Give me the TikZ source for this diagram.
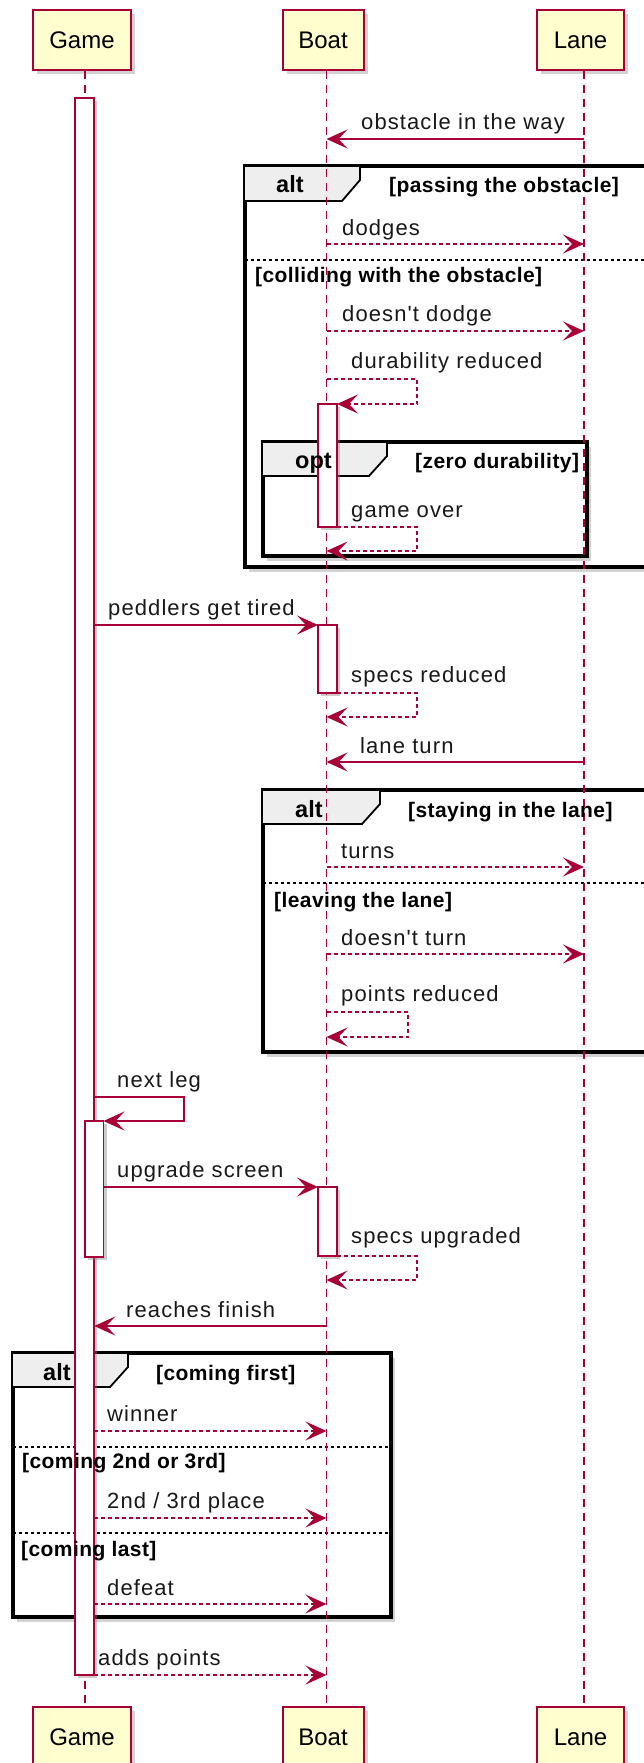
\documentclass[tikz,border=0pt]{standalone}
\usepackage{fontspec}
\setmainfont{Liberation Sans}
\newfontfamily\msgfont{Liberation Sans}[LetterSpace=5]
\newfontfamily\grdfont{Liberation Sans}[LetterSpace=2]
\usepackage{xcolor}
\usetikzlibrary{arrows.meta, shadows, positioning}
\definecolor{umlred}{HTML}{A80036}
\definecolor{umlfill}{HTML}{FEFECE}
\definecolor{tabgray}{HTML}{EEEEEE}
\tikzset{
>={Stealth[length=21pt, width=19pt, inset=9pt]}, % arrow heads of the messages
participant/.style={draw=umlred, line width=2pt, fill=umlfill, minimum height=60pt, inner sep=0pt,
  font=\fontsize{24}{28}\selectfont, drop shadow={shadow xshift=4pt, shadow yshift=-4pt, opacity=0.35}},
lifeline/.style={umlred, line width=1.3pt, dash pattern=on 8pt off 6pt},
bar/.style={draw=umlred, line width=1.6pt, fill=white, minimum width=19pt, inner sep=0pt, outer sep=0pt,
  drop shadow={shadow xshift=3pt, shadow yshift=-3pt, opacity=0.4}},
call/.style={->, umlred, line width=1.6pt}, % plain message
reply/.style={->, umlred, line width=1.6pt, dash pattern=on 4pt off 3pt}, % dashed message
lbl/.style={anchor=base west, inner sep=0pt, text=black!90, font=\msgfont\fontsize{22}{26}\selectfont},
frame/.style={draw=black, line width=3.2pt, fill=white, drop shadow={shadow xshift=4pt, shadow yshift=-5pt, opacity=0.35}},
tab/.style={draw=black, line width=1.8pt, fill=tabgray},
kind/.style={anchor=base west, inner sep=0pt, font=\bfseries\fontsize{23.5}{27}\selectfont},
guard/.style={anchor=base west, inner sep=0pt, font=\grdfont\bfseries\fontsize{21}{25}\selectfont},
divider/.style={black, line width=1.2pt, dash pattern=on 3pt off 3pt},
}

\begin{document}
\begin{tikzpicture}[x=1pt, y=-1pt]
    \clip (0,0) rectangle (644,1763);
    \fill[white] (0,0) rectangle (644,1763);

    % where the lifelines run
    \coordinate (gameL) at (85,0);
    \coordinate (boatL) at (326.5,0);
    \coordinate (laneL) at (584,0);

    % participants, top and bottom
    \node[participant, minimum width=98pt] (gameHead) at (82,40) {Game};
    \node[participant, minimum width=81pt] (boatHead) at (323,40) {Boat};
    \node[participant, minimum width=87pt] (laneHead) at (580.5,40) {Lane};
    \node[participant, minimum width=98pt] (gameFoot) at (82,1737) {Game};
    \node[participant, minimum width=81pt] (boatFoot) at (323,1737) {Boat};
    \node[participant, minimum width=87pt] (laneFoot) at (580.5,1737) {Lane};

    % groups
    \draw[frame] (245,166) rectangle (700,567);
    \draw[tab] (245,166) -- (360,166) -- (360,180) -- (342,201) -- (245,201);
    \draw[divider] (245,260) -- (700,260);
    \draw[frame] (263,442) rectangle (587,556);
    \draw[tab] (263,442) -- (387,442) -- (387,456) -- (369,476) -- (263,476);
    \draw[frame] (263,790) rectangle (700,1052);
    \draw[tab] (263,790) -- (380,790) -- (380,804) -- (362,824) -- (263,824);
    \draw[divider] (263,883) -- (700,883);
    \draw[frame] (13,1353) rectangle (391,1617);
    \draw[tab] (13,1353) -- (128,1353) -- (128,1367) -- (110,1387) -- (13,1387);
    \draw[divider] (13,1447) -- (391,1447);
    \draw[divider] (13,1533) -- (391,1533);

    % lifelines
    \draw[lifeline] (gameL |- gameHead.south) -- (gameL |- gameFoot.north);
    \draw[lifeline] (boatL |- boatHead.south) -- (boatL |- boatFoot.north);
    \draw[lifeline] (laneL |- laneHead.south) -- (laneL |- laneFoot.north);

    % activations
    \node[bar, minimum height=1577pt] (gbar) at (84.75,886.5) {};
    \node[bar, minimum height=136pt, minimum width=18.5pt] (gbar2) at (94.25,1189) {};
    \node[bar, minimum height=123pt] (bbar1) at (327.5,465.5) {};
    \node[bar, minimum height=68pt] (bbar2) at (327.5,659) {};
    \node[bar, minimum height=69pt] (bbar3) at (327.5,1221.5) {};

    % group texts
    \node[kind] (alt1) at (276,193) {alt};
    \node[guard] (g1) at (389,193) {[passing the obstacle]};
    \node[guard] (g2) at (255,282) {[colliding with the obstacle]};
    \node[kind] (opt1) at (295,468) {opt};
    \node[guard] (g3) at (415,468) {[zero durability]};
    \node[kind] (alt2) at (295,817) {alt};
    \node[guard] (g4) at (408,817) {[staying in the lane]};
    \node[guard] (g5) at (274,907) {[leaving the lane]};
    \node[kind] (alt3) at (43,1380) {alt};
    \node[guard] (g6) at (156,1380) {[coming first]};
    \node[guard] (g7) at (22,1468) {[coming 2nd or 3rd]};
    \node[guard] (g8) at (21,1556) {[coming last]};

    % message ends
    \coordinate (obst) at (0,139);
    \coordinate (dodge) at (0,244);
    \coordinate (nododge) at (0,331);
    \coordinate (dura) at (0,379);
    \coordinate (lturn) at (0,762);
    \coordinate (turn) at (0,867);
    \coordinate (noturn) at (0,954);
    \coordinate (pts) at (0,1012);
    \coordinate (leg) at (0,1097);
    \coordinate (finish) at (0,1326);
    \coordinate (win) at (0,1431);
    \coordinate (place) at (0,1518);
    \coordinate (lose) at (0,1604);
    \coordinate (loopB) at (417,0);
    \coordinate (loopP) at (408,0);
    \coordinate (loopG) at (184,0);

    % messages
    \draw[call] (laneL |- obst) -- (boatL |- obst);
    \draw[reply] (boatL |- dodge) -- (laneL |- dodge);
    \draw[reply] (boatL |- nododge) -- (laneL |- nododge);
    \draw[reply] (boatL |- dura) -- (loopB |- dura) |- (bbar1.north east);
    \draw[reply] (bbar1.south east) -- (loopB |- bbar1.south) -- ++(0,24) -- ++(-90.5,0);
    \draw[call] (gbar.east |- bbar2.north) -- (bbar2.north west);
    \draw[reply] (bbar2.south east) -- (loopB |- bbar2.south) -- ++(0,24) -- ++(-90.5,0);
    \draw[call] (laneL |- lturn) -- (boatL |- lturn);
    \draw[reply] (boatL |- turn) -- (laneL |- turn);
    \draw[reply] (boatL |- noturn) -- (laneL |- noturn);
    \draw[reply] (boatL |- pts) -- (loopP |- pts) -- ++(0,25) -- ++(-81.5,0);
    \draw[call] (gbar.east |- leg) -- (loopG |- leg) |- (gbar2.north east);
    \draw[call] (gbar2.east |- bbar3.north) -- (bbar3.north west);
    \draw[reply] (bbar3.south east) -- (loopB |- bbar3.south) -- ++(0,24) -- ++(-90.5,0);
    \draw[call] (boatL |- finish) -- (gbar.east |- finish);
    \draw[reply] (gbar.east |- win) -- (boatL |- win);
    \draw[reply] (gbar.east |- place) -- (boatL |- place);
    \draw[reply] (gbar.east |- lose) -- (boatL |- lose);
    \draw[reply] (gbar.south east) -- (boatL |- gbar.south);

    % message texts
    \node[lbl] (t1) at (361,130) {obstacle in the way};
    \node[lbl] (t2) at (342,235) {dodges};
    \node[lbl] (t3) at (342,321) {doesn't dodge};
    \node[lbl] (t4) at (351,368) {durability reduced};
    \node[lbl] (t5) at (351,517) {game over};
    \node[lbl] (t6) at (108,615) {peddlers get tired};
    \node[lbl] (t7) at (351,682) {specs reduced};
    \node[lbl] (t8) at (360,753) {lane turn};
    \node[lbl] (t9) at (341,858) {turns};
    \node[lbl] (t10) at (341,945) {doesn't turn};
    \node[lbl] (t11) at (341,1001) {points reduced};
    \node[lbl] (t12) at (117,1087) {next leg};
    \node[lbl] (t13) at (117,1177) {upgrade screen};
    \node[lbl] (t14) at (351,1243) {specs upgraded};
    \node[lbl] (t15) at (126,1317) {reaches finish};
    \node[lbl] (t16) at (107,1421) {winner};
    \node[lbl] (t17) at (107,1508) {2nd / 3rd place};
    \node[lbl] (t18) at (107,1595) {defeat};
    \node[lbl] (t19) at (98,1665) {adds points};
\end{tikzpicture}
\end{document}
